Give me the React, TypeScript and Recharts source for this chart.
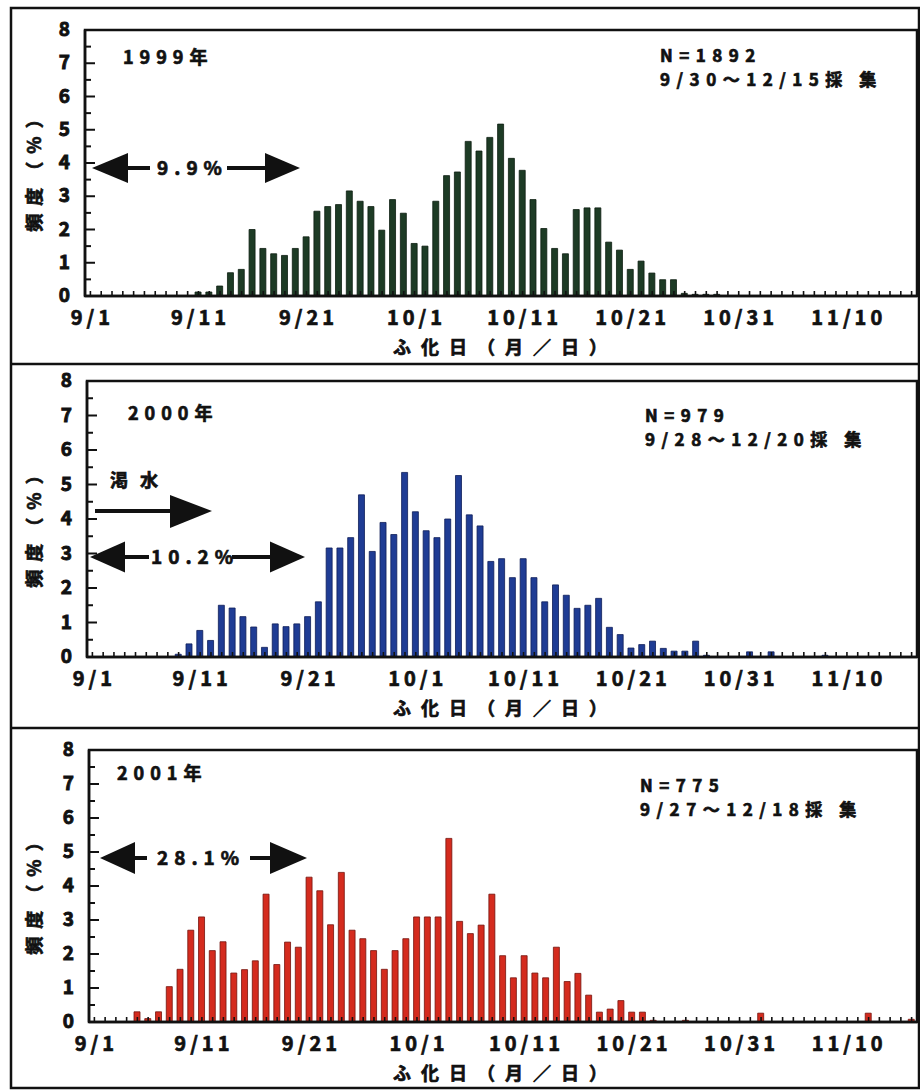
import { BarChart, Bar, XAxis, YAxis } from 'recharts';

// hatch dates 9/1 .. 11/16
const days = [
  '9/1', '9/2', '9/3', '9/4', '9/5', '9/6', '9/7', '9/8', '9/9', '9/10',
  '9/11', '9/12', '9/13', '9/14', '9/15', '9/16', '9/17', '9/18', '9/19', '9/20',
  '9/21', '9/22', '9/23', '9/24', '9/25', '9/26', '9/27', '9/28', '9/29', '9/30',
  '10/1', '10/2', '10/3', '10/4', '10/5', '10/6', '10/7', '10/8', '10/9', '10/10',
  '10/11', '10/12', '10/13', '10/14', '10/15', '10/16', '10/17', '10/18', '10/19', '10/20',
  '10/21', '10/22', '10/23', '10/24', '10/25', '10/26', '10/27', '10/28', '10/29', '10/30',
  '10/31', '11/1', '11/2', '11/3', '11/4', '11/5', '11/6', '11/7', '11/8', '11/9',
  '11/10', '11/11', '11/12', '11/13', '11/14', '11/15', '11/16',
];
const tickLabels = ['9/1', '9/11', '9/21', '10/1', '10/11', '10/21', '10/31', '11/10'];
const yTicks = [0, 0.5, 1, 1.5, 2, 2.5, 3, 3.5, 4, 4.5, 5, 5.5, 6, 6.5, 7, 7.5, 8];

// frequency (%) per day
const freq1999 = [
  0, 0, 0, 0, 0, 0, 0, 0, 0, 0,
  0.12, 0.12, 0.3, 0.7, 0.8, 2.0, 1.43, 1.27, 1.22, 1.43,
  1.78, 2.55, 2.69, 2.75, 3.16, 2.85, 2.69, 1.98, 2.9, 2.49,
  1.58, 1.5, 2.85, 3.62, 3.73, 4.65, 4.36, 4.77, 5.17, 4.14,
  3.78, 2.9, 2.03, 1.43, 1.27, 2.6, 2.65, 2.65, 1.62, 1.38,
  0.8, 1.05, 0.69, 0.49, 0.49, 0.08, 0.05, 0.05, 0.05, 0,
  0, 0, 0, 0, 0, 0, 0, 0, 0, 0,
  0, 0, 0, 0, 0, 0, 0,
];
const freq2000 = [
  0, 0, 0, 0, 0, 0, 0, 0, 0.08, 0.38,
  0.77, 0.48, 1.5, 1.42, 1.17, 0.87, 0.28, 0.96, 0.88, 0.96,
  1.17, 1.6, 3.16, 3.16, 3.46, 4.7, 3.06, 3.9, 3.55, 5.35,
  4.21, 3.66, 3.46, 4.0, 5.26, 4.12, 3.8, 2.77, 2.85, 2.3,
  2.85, 2.3, 1.6, 2.09, 1.79, 1.41, 1.5, 1.7, 0.86, 0.65,
  0.26, 0.36, 0.46, 0.25, 0.17, 0.17, 0.46, 0.05, 0, 0,
  0, 0.15, 0, 0.15, 0, 0, 0, 0, 0.05, 0,
  0, 0, 0, 0, 0, 0, 0,
];
const freq2001 = [
  0, 0, 0, 0, 0.3, 0.1, 0.3, 1.04, 1.55, 2.7,
  3.09, 2.1, 2.36, 1.44, 1.54, 1.8, 3.76, 1.69, 2.35, 2.2,
  4.26, 3.86, 2.86, 4.4, 2.7, 2.45, 2.1, 1.55, 2.1, 2.45,
  3.09, 3.09, 3.09, 5.4, 2.96, 2.6, 2.85, 3.76, 1.95, 1.3,
  1.95, 1.44, 1.3, 2.2, 1.19, 1.43, 0.79, 0.29, 0.38, 0.63,
  0.29, 0.29, 0.05, 0, 0, 0.05, 0, 0, 0, 0,
  0, 0, 0.26, 0, 0, 0, 0, 0, 0, 0,
  0, 0, 0.26, 0, 0, 0, 0.08,
];

const data = days.map((day, i) => ({
  day,
  y1999: freq1999[i],
  y2000: freq2000[i],
  y2001: freq2001[i],
}));

const W = 920;
const H = 1091;
const PLOT_RIGHT = 917;
const XAXIS_H = 50;
const Y_MARGIN = 15;
const FONT = "'Noto Sans CJK JP', 'Noto Sans', sans-serif";
const INK = '#111';

const panels = [
  { key: 'y1999', fill: '#1d3b25', stroke: '#0c1d10', top: 8, bottom: 364, plotLeft: 85, plotTop: 30, plotBottom: 296 },
  { key: 'y2000', fill: '#1f3c94', stroke: '#0e1d58', top: 364, bottom: 728, plotLeft: 87, plotTop: 381, plotBottom: 657 },
  { key: 'y2001', fill: '#d42b1e', stroke: '#74130c', top: 728, bottom: 1088, plotLeft: 89, plotTop: 750, plotBottom: 1022 },
];

// heavy gothic look: bold glyphs with a thin outline of the same ink
const txt = { fontFamily: FONT, fontWeight: 700, fill: INK, stroke: INK, strokeWidth: 0.7 } as const;

const XTick = (props: any) => {
  const { x, y, payload } = props;
  const show = tickLabels.includes(payload.value);
  return (
    <g>
      <line x1={x} y1={y} x2={x} y2={y - 5} stroke={INK} strokeWidth={1.6} />
      {show && (
        <text x={x + 2} y={y + 29} textAnchor="middle" fontSize={20} letterSpacing={4} {...txt}>
          {payload.value}
        </text>
      )}
    </g>
  );
};

const YTick = (props: any) => {
  const { x, y, payload } = props;
  const v = payload.value as number;
  const major = Number.isInteger(v);
  const ax = x + Y_MARGIN;
  return (
    <g>
      <line x1={ax} y1={y} x2={ax + (major ? 10 : 6)} y2={y} stroke={INK} strokeWidth={2} />
      {major && (
        <text x={x} y={y} dy={6} textAnchor="end" fontSize={19} {...txt} strokeWidth={0.9}>
          {v}
        </text>
      )}
    </g>
  );
};

const Arrow = ({ y, x1, b1, l1, l2, b2, x2, h, label, tx }: any) => (
  <g>
    <polygon points={`${x1},${y} ${b1},${y - h / 2} ${b1},${y + h / 2}`} fill={INK} />
    <rect x={b1} y={y - 2} width={l1 - b1} height={4} fill={INK} />
    <text x={tx} y={y + 7} fontSize={19} letterSpacing={6} {...txt}>{label}</text>
    <rect x={l2} y={y - 2} width={b2 - l2} height={4} fill={INK} />
    <polygon points={`${b2},${y - h / 2} ${x2},${y} ${b2},${y + h / 2}`} fill={INK} />
  </g>
);

const Overlay = () => (
  <svg width={W} height={H} style={{ position: 'absolute', left: 0, top: 0, pointerEvents: 'none' }}>
    {/* outer frame and panel separators */}
    <rect x={11} y={8} width={908} height={1080} fill="none" stroke={INK} strokeWidth={2.5} />
    <line x1={11} x2={W} y1={364} y2={364} stroke={INK} strokeWidth={2.5} />
    <line x1={11} x2={W} y1={728} y2={728} stroke={INK} strokeWidth={2.5} />
    {panels.map((p) => (
      <g key={p.key}>
        <rect x={p.plotLeft} y={p.plotTop} width={PLOT_RIGHT - p.plotLeft} height={p.plotBottom - p.plotTop}
          fill="none" stroke={INK} strokeWidth={2.5} />
        <text x={33} y={(p.plotTop + p.plotBottom) / 2 + 4} transform={`rotate(-90 33 ${(p.plotTop + p.plotBottom) / 2 + 4})`}
          textAnchor="middle" dominantBaseline="central" fontSize={18} letterSpacing={8} {...txt}>
          頻度（%）
        </text>
        <text x={505} y={p.plotBottom + 58} textAnchor="middle" fontSize={18} letterSpacing={10} {...txt}>
          ふ化日（月／日）
        </text>
      </g>
    ))}

    {/* 1999 */}
    <text x={123} y={64} fontSize={18} letterSpacing={6} {...txt}>1999年</text>
    <text x={660} y={62} fontSize={17} letterSpacing={6.5} {...txt}>N=1892</text>
    <text x={660} y={86} fontSize={17} letterSpacing={6.5} {...txt}>9/30～12/15採 集</text>
    <Arrow y={168} x1={92} b1={128} l1={150} l2={227} b2={265} x2={300} h={30} label="9.9%" tx={157} />

    {/* 2000 */}
    <text x={128} y={420} fontSize={18} letterSpacing={6} {...txt}>2000年</text>
    <text x={645} y={422} fontSize={17} letterSpacing={6.5} {...txt}>N=979</text>
    <text x={645} y={446} fontSize={17} letterSpacing={6.5} {...txt}>9/28～12/20採 集</text>
    <text x={110} y={487} fontSize={18} letterSpacing={12} {...txt}>渇水</text>
    <rect x={95} y={509} width={77} height={4} fill={INK} />
    <polygon points="170,495 212,511 170,528" fill={INK} />
    <Arrow y={557} x1={90} b1={125} l1={149} l2={232} b2={270} x2={305} h={31} label="10.2%" tx={151} />

    {/* 2001 */}
    <text x={117} y={780} fontSize={18} letterSpacing={6} {...txt}>2001年</text>
    <text x={640} y={792} fontSize={17} letterSpacing={6.5} {...txt}>N=775</text>
    <text x={640} y={816} fontSize={17} letterSpacing={6.5} {...txt}>9/27～12/18採 集</text>
    <Arrow y={858} x1={100} b1={135} l1={147} l2={250} b2={270} x2={307} h={32} label="28.1%" tx={157} />
  </svg>
);

export default function App() {
  return (
    <div style={{ position: 'relative', width: W, height: H, background: '#fff', overflow: 'hidden' }}>
      <style>{'body{margin:0}'}</style>
      {panels.map((p) => (
        <div key={p.key} style={{ position: 'absolute', left: 0, top: p.top }}>
          <BarChart
            width={W}
            height={p.bottom - p.top}
            data={data}
            margin={{ top: p.plotTop - p.top, right: W - PLOT_RIGHT, left: 0, bottom: p.bottom - p.plotBottom - XAXIS_H }}
          >
            <XAxis dataKey="day" interval={0} height={XAXIS_H} tickSize={0} tickMargin={0}
              tickLine={false} axisLine={{ stroke: INK, strokeWidth: 2.5 }}
              tick={(t: any) => <XTick {...t} />} />
            <YAxis type="number" domain={[0, 8]} ticks={yTicks} interval={0} width={p.plotLeft}
              tickSize={0} tickMargin={Y_MARGIN} tickLine={false} axisLine={{ stroke: INK, strokeWidth: 2.5 }}
              tick={(t: any) => <YTick {...t} />} />
            <Bar dataKey={p.key} fill={p.fill} stroke={p.stroke} strokeWidth={0.8} barSize={6}
              isAnimationActive={false} />
          </BarChart>
        </div>
      ))}
      <Overlay />
    </div>
  );
}
